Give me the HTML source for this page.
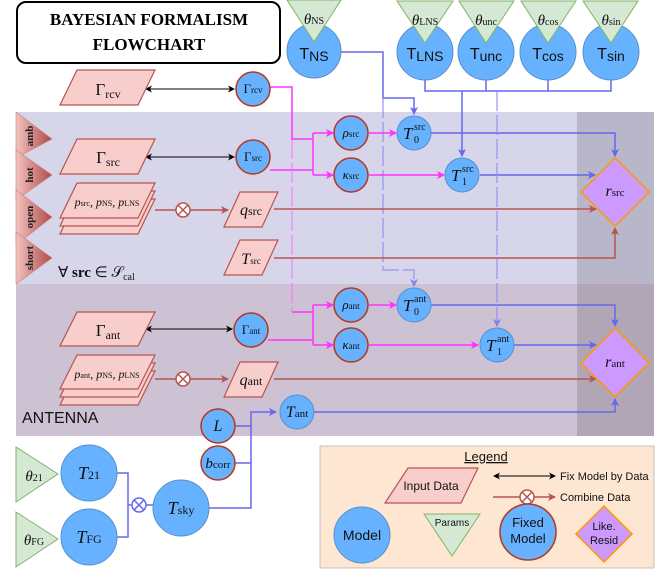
<!DOCTYPE html>
<html><head><meta charset="utf-8"><style>
html,body{margin:0;padding:0;background:#fff;}
svg{display:block;}
.m{font-family:"Liberation Serif",serif;font-style:normal;}
.i{font-style:italic;}
.s{font-family:"Liberation Sans",sans-serif;}
</style></head><body>
<svg width="664" height="571" viewBox="0 0 664 571" xmlns="http://www.w3.org/2000/svg">
<defs>
<marker id="ab" markerWidth="8" markerHeight="8" refX="7" refY="4" orient="auto" markerUnits="userSpaceOnUse"><path d="M0,0 L8,4 L0,8 L2,4z" fill="#6666ee"/></marker>
<marker id="am" markerWidth="8" markerHeight="8" refX="7" refY="4" orient="auto" markerUnits="userSpaceOnUse"><path d="M0,0 L8,4 L0,8 L2,4z" fill="#ff33ff"/></marker>
<marker id="ar" markerWidth="8" markerHeight="8" refX="7" refY="4" orient="auto" markerUnits="userSpaceOnUse"><path d="M0,0 L8,4 L0,8 L2,4z" fill="#b85450"/></marker>
<marker id="ak" markerWidth="7" markerHeight="7" refX="6" refY="3.5" orient="auto-start-reverse" markerUnits="userSpaceOnUse"><path d="M0,0 L7,3.5 L0,7 L2,3.5z" fill="#000"/></marker>
<linearGradient id="tg" x1="0" x2="1" y1="0" y2="0"><stop offset="0" stop-color="#f2c3c0"/><stop offset="1" stop-color="#b04a47"/></linearGradient>
</defs>

<rect x="16" y="112" width="638" height="172" fill="#d7d5ea"/>
<rect x="577" y="112" width="77" height="172" fill="#b9b6c9"/>
<rect x="16" y="284" width="638" height="152" fill="#cdc1d4"/>
<rect x="577" y="284" width="77" height="152" fill="#b0a6b5"/>

<g stroke="#c9807c" stroke-width="0.6" fill="url(#tg)">
<path d="M16,112 L52,139 L16,158z"/>
<path d="M16,150 L52,175 L16,200z"/>
<path d="M16,190 L52,217 L16,245z"/>
<path d="M16,232 L52,258 L16,284z"/>
</g>
<g font-family="Liberation Serif,serif" font-weight="bold" font-size="11" fill="#222">
<text transform="translate(33,136) rotate(-90)" text-anchor="middle">amb</text>
<text transform="translate(33,175) rotate(-90)" text-anchor="middle">hot</text>
<text transform="translate(33,217) rotate(-90)" text-anchor="middle">open</text>
<text transform="translate(33,258) rotate(-90)" text-anchor="middle">short</text>
</g>

<rect x="17" y="2" width="263" height="61" rx="9" fill="#fff" stroke="#000" stroke-width="2"/>
<text x="149" y="25" text-anchor="middle" font-family="Liberation Serif,serif" font-weight="bold" font-size="17">BAYESIAN FORMALISM</text>
<text x="149" y="50" text-anchor="middle" font-family="Liberation Serif,serif" font-weight="bold" font-size="17">FLOWCHART</text>

<g fill="none" stroke="#6666ee" stroke-width="1.5">
<path d="M340,52 H383 V98 H414 V114" marker-end="url(#ab)"/>
<path d="M425,80 V91 H611 V80 M486,80 V91 M548,80 V91"/>
<path d="M462,91 V156" marker-end="url(#ab)"/>
<path d="M431,133 H615 V156" marker-end="url(#ab)"/>
<path d="M480,175 H595" marker-end="url(#ab)"/>
<path d="M431,305 H615 V326" marker-end="url(#ab)"/>
<path d="M514,345 H596" marker-end="url(#ab)"/>
<path d="M314,412 H615 V399" marker-end="url(#ab)"/>
<path d="M209,508 H251 V412 H276" marker-end="url(#ab)"/>
<path d="M235,426 H251 M235,463 H251"/>
<path d="M117,473 H128 V537 H117 M128,505 H132 M146,505 H153"/>
</g>
<g fill="none" stroke="#8a8af5" stroke-width="1.5" opacity="0.7">
<path d="M383,98 V270 H414 V286" stroke-dasharray="20,4" marker-end="url(#ab)"/>
<path d="M497,91 V326" stroke-dasharray="20,4" marker-end="url(#ab)"/>
</g>

<g fill="none" stroke="#ff33ff" stroke-width="1.5">
<path d="M270,87 H292 V139 H313"/>
<path d="M313,133 V175"/>
<path d="M313,133 H333" marker-end="url(#am)"/>
<path d="M313,175 H333" marker-end="url(#am)"/>
<path d="M270,170 H313"/>
<path d="M369,133 H396" marker-end="url(#am)"/>
<path d="M369,175 H444" marker-end="url(#am)"/>
<path d="M313,305 V345"/>
<path d="M313,305 H333" marker-end="url(#am)"/>
<path d="M313,345 H333" marker-end="url(#am)"/>
<path d="M268,340 H313"/>
<path d="M292,312 H313"/>
<path d="M369,305 H396" marker-end="url(#am)"/>
<path d="M369,345 H478" marker-end="url(#am)"/>
</g>
<path d="M292,139 V312" stroke="#ff66ff" stroke-width="1.5" opacity="0.6" stroke-dasharray="20,4" fill="none"/>

<g fill="none" stroke="#b85450" stroke-width="1.5">
<path d="M155,210 H176 M190,210 H228" marker-end="url(#ar)"/>
<path d="M274,209 H596" marker-end="url(#ar)"/>
<path d="M274,258 H615 V228" marker-end="url(#ar)"/>
<path d="M155,379 H176 M190,379 H228" marker-end="url(#ar)"/>
<path d="M274,379 H596" marker-end="url(#ar)"/>
</g>
<g stroke="#000" stroke-width="1" fill="none">
<path d="M146,89 H234" marker-start="url(#ak)" marker-end="url(#ak)"/>
<path d="M146,157 H234" marker-start="url(#ak)" marker-end="url(#ak)"/>
<path d="M146,329 H232" marker-start="url(#ak)" marker-end="url(#ak)"/>
</g>

<g fill="#f8cecc" stroke="#b85450" stroke-width="1.2">
<path d="M77,70 H155 L138,105 H60z"/>
<path d="M77,139 H155 L138,174 H60z"/>
<path d="M77,199 H155 L138,234 H60z"/>
<path d="M77,191 H155 L138,226 H60z"/>
<path d="M77,183 H155 L138,218 H60z"/>
<path d="M240,192 H278 L262,227 H224z"/>
<path d="M240,240 H278 L262,275 H224z"/>
<path d="M77,312 H155 L138,346 H60z"/>
<path d="M77,371 H155 L138,405 H60z"/>
<path d="M77,363 H155 L138,397 H60z"/>
<path d="M77,355 H155 L138,389 H60z"/>
<path d="M240,362 H278 L262,397 H224z"/>
</g>
<g class="m" font-size="17" fill="#111" text-anchor="middle">
<text x="108" y="95">Γ<tspan font-size="12" dy="3">rcv</tspan></text>
<text x="108" y="163">Γ<tspan font-size="12" dy="3">src</tspan></text>
<text x="108" y="336">Γ<tspan font-size="12" dy="3">ant</tspan></text>
</g>
<g class="m" fill="#111" text-anchor="middle">
<text x="107" y="206" font-size="12"><tspan class="i">p</tspan><tspan font-size="8">src</tspan>, <tspan class="i">p</tspan><tspan font-size="8">NS</tspan>, <tspan class="i">p</tspan><tspan font-size="8">LNS</tspan></text>
<text x="107" y="378" font-size="12"><tspan class="i">p</tspan><tspan font-size="8">ant</tspan>, <tspan class="i">p</tspan><tspan font-size="8">NS</tspan>, <tspan class="i">p</tspan><tspan font-size="8">LNS</tspan></text>
<text x="251" y="215" font-size="16"><tspan class="i">q</tspan><tspan font-size="12">src</tspan></text>
<text x="251" y="264" font-size="16"><tspan class="i">T</tspan><tspan font-size="9">src</tspan></text>
<text x="251" y="385" font-size="16"><tspan class="i">q</tspan><tspan font-size="12">ant</tspan></text>
</g>
<text x="58" y="277" font-family="Liberation Serif,serif" font-size="15" fill="#111">∀ <tspan font-weight="bold">src</tspan> ∈ 𝒮<tspan font-size="10" dy="3">cal</tspan></text>
<text x="22" y="423" class="s" font-size="16" fill="#111">ANTENNA</text>

<g stroke="#b85450" stroke-width="1.5" fill="#fff">
<circle cx="183" cy="210" r="7"/><path d="M178,205 L188,215 M188,205 L178,215"/>
<circle cx="183" cy="379" r="7"/><path d="M178,374 L188,384 M188,374 L178,384"/>
</g>
<g stroke="#6666ee" stroke-width="1.5" fill="#fff">
<circle cx="139" cy="505" r="7"/><path d="M134,500 L144,510 M144,500 L134,510"/>
</g>

<g fill="#66b2ff" stroke="#5a8fcc" stroke-width="1">
<circle cx="314" cy="51" r="27"/>
<circle cx="425" cy="52" r="28"/>
<circle cx="486" cy="52" r="28"/>
<circle cx="548" cy="52" r="28"/>
<circle cx="611" cy="52" r="28"/>
<circle cx="414" cy="133" r="17"/>
<circle cx="462" cy="175" r="17"/>
<circle cx="414" cy="305" r="17"/>
<circle cx="497" cy="345" r="17"/>
<circle cx="297" cy="412" r="17"/>
<circle cx="89" cy="473" r="28"/>
<circle cx="89" cy="537" r="28"/>
<circle cx="181" cy="508" r="28"/>
</g>
<g fill="#66b2ff" stroke="#b7371e" stroke-width="1.5">
<circle cx="253" cy="89" r="17"/>
<circle cx="253" cy="157" r="17"/>
<circle cx="351" cy="133" r="17"/>
<circle cx="351" cy="175" r="17"/>
<circle cx="251" cy="330" r="17"/>
<circle cx="351" cy="305" r="17"/>
<circle cx="351" cy="345" r="17"/>
<circle cx="218" cy="426" r="17"/>
<circle cx="218" cy="463" r="17"/>
</g>
<g fill="#d5e8d4" stroke="#82b366" stroke-width="1">
<path d="M287,0 H341 L314,42z"/>
<path d="M397,1 H453 L425,43z"/>
<path d="M459,1 H514 L486,43z"/>
<path d="M521,1 H576 L548,43z"/>
<path d="M583,1 H638 L611,43z"/>
<path d="M16,447 L58,474 L16,502z"/>
<path d="M16,512 L58,539 L16,567z"/>
</g>
<g class="m" fill="#111" text-anchor="middle" font-size="15">
<text x="314" y="24"><tspan class="i">θ</tspan><tspan font-size="10">NS</tspan></text>
<text x="425" y="25"><tspan class="i">θ</tspan><tspan font-size="10">LNS</tspan></text>
<text x="486" y="25"><tspan class="i">θ</tspan><tspan font-size="10">unc</tspan></text>
<text x="548" y="25"><tspan class="i">θ</tspan><tspan font-size="10">cos</tspan></text>
<text x="611" y="25"><tspan class="i">θ</tspan><tspan font-size="10">sin</tspan></text>
<text x="34" y="481"><tspan class="i">θ</tspan><tspan font-size="10">21</tspan></text>
<text x="34" y="545"><tspan class="i">θ</tspan><tspan font-size="10">FG</tspan></text>
</g>
<g class="s" fill="#111" text-anchor="middle" font-size="16">
<text x="314" y="59">T<tspan font-size="14" dy="2">NS</tspan></text>
<text x="425" y="59">T<tspan font-size="14" dy="2">LNS</tspan></text>
<text x="486" y="59">T<tspan font-size="14" dy="2">unc</tspan></text>
<text x="548" y="59">T<tspan font-size="14" dy="2">cos</tspan></text>
<text x="611" y="59">T<tspan font-size="14" dy="2">sin</tspan></text>
</g>
<g class="m" fill="#111" text-anchor="middle" font-size="13">
<text x="253" y="93">Γ<tspan font-size="9">rcv</tspan></text>
<text x="253" y="161">Γ<tspan font-size="9">src</tspan></text>
<text x="251" y="334">Γ<tspan font-size="9">ant</tspan></text>
<text x="351" y="137"><tspan class="i">ρ</tspan><tspan font-size="9">src</tspan></text>
<text x="351" y="179"><tspan class="i">κ</tspan><tspan font-size="9">src</tspan></text>
<text x="351" y="309"><tspan class="i">ρ</tspan><tspan font-size="9">ant</tspan></text>
<text x="351" y="349"><tspan class="i">κ</tspan><tspan font-size="9">ant</tspan></text>
<text x="297" y="417" font-size="16"><tspan class="i">T</tspan><tspan font-size="11">ant</tspan></text>
<text x="218" y="431" font-size="16" class="i">L</text>
<text x="218" y="468" font-size="15"><tspan class="i">b</tspan><tspan font-size="11">corr</tspan></text>
<text x="89" y="479" font-size="18"><tspan class="i">T</tspan><tspan font-size="12">21</tspan></text>
<text x="89" y="543" font-size="18"><tspan class="i">T</tspan><tspan font-size="12">FG</tspan></text>
<text x="181" y="514" font-size="18"><tspan class="i">T</tspan><tspan font-size="12">sky</tspan></text>
</g>
<g class="m" fill="#111" font-size="17">
<text x="403" y="139" class="i">T</text><text x="414" y="130" font-size="10">src</text><text x="414" y="143" font-size="10">0</text>
<text x="451" y="181" class="i">T</text><text x="462" y="172" font-size="10">src</text><text x="462" y="185" font-size="10">1</text>
<text x="403" y="311" class="i">T</text><text x="414" y="302" font-size="10">ant</text><text x="414" y="315" font-size="10">0</text>
<text x="486" y="351" class="i">T</text><text x="497" y="342" font-size="10">ant</text><text x="497" y="355" font-size="10">1</text>
</g>

<g fill="#cc99ff" stroke="#ff9900" stroke-width="1.5">
<path d="M615,158 L649,192 L615,226 L581,192z"/>
<path d="M615,328 L649,363 L615,397 L581,363z"/>
</g>
<g class="m" fill="#111" text-anchor="middle" font-size="16">
<text x="615" y="196"><tspan class="i">r</tspan><tspan font-size="11">src</tspan></text>
<text x="615" y="367"><tspan class="i">r</tspan><tspan font-size="11">ant</tspan></text>
</g>

<rect x="320" y="446" width="334" height="122" fill="#fde6d2" stroke="#c8c0b8" stroke-width="1"/>
<text x="486" y="461" text-anchor="middle" class="s" font-size="13" fill="#111" text-decoration="underline">Legend</text>
<path d="M408,468 H478 L461,503 H385z" fill="#f8cecc" stroke="#b85450" stroke-width="1.2"/>
<text x="431" y="490" text-anchor="middle" class="s" font-size="12" fill="#111">Input Data</text>
<path d="M494,476 H555" stroke="#000" stroke-width="1" marker-start="url(#ak)" marker-end="url(#ak)"/>
<text x="560" y="480" class="s" font-size="11" fill="#111">Fix Model by Data</text>
<path d="M493,497 H520 M534,497 H555" stroke="#b85450" stroke-width="1.5" fill="none" marker-end="url(#ar)"/>
<circle cx="527" cy="497" r="7" fill="#fff" stroke="#b85450" stroke-width="1.5"/>
<path d="M522,492 L532,502 M532,492 L522,502" stroke="#b85450" stroke-width="1.5"/>
<text x="560" y="501" class="s" font-size="11" fill="#111">Combine Data</text>
<circle cx="362" cy="535" r="28" fill="#66b2ff" stroke="#5a8fcc"/>
<text x="362" y="540" text-anchor="middle" class="s" font-size="14" fill="#111">Model</text>
<path d="M424,514 H480 L452,556z" fill="#d5e8d4" stroke="#82b366"/>
<text x="452" y="526" text-anchor="middle" class="s" font-size="10" fill="#111">Params</text>
<circle cx="528" cy="532" r="28" fill="#66b2ff" stroke="#b7371e" stroke-width="1.5"/>
<text x="528" y="527" text-anchor="middle" class="s" font-size="13" fill="#111">Fixed</text>
<text x="528" y="543" text-anchor="middle" class="s" font-size="13" fill="#111">Model</text>
<path d="M604,506 L632,534 L604,562 L576,534z" fill="#cc99ff" stroke="#ff9900" stroke-width="1.5"/>
<text x="604" y="530" text-anchor="middle" class="s" font-size="11" fill="#111">Like.</text>
<text x="604" y="544" text-anchor="middle" class="s" font-size="11" fill="#111">Resid</text>
</svg>
</body></html>
